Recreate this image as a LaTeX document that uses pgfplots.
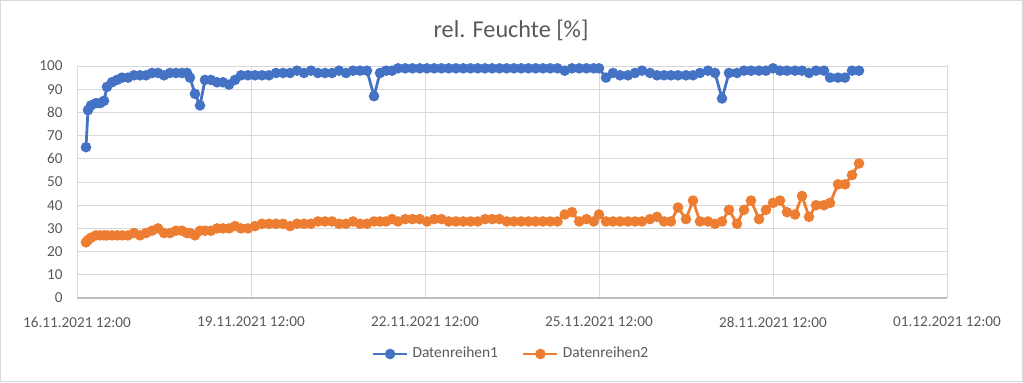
\documentclass[border=0pt]{standalone}
\usepackage{pgfplots}
\pgfplotsset{compat=1.18}
\usepackage{pgfplotstable}
\usepackage{fontspec}
\setmainfont{Carlito}
\definecolor{cblue}{HTML}{4472C4}
\definecolor{corange}{HTML}{ED7D31}
\definecolor{gridgray}{HTML}{D9D9D9}
\definecolor{axgray}{HTML}{BFBFBF}
\definecolor{txtgray}{HTML}{595959}

\pgfplotstableread{
day blue orange
0.155 65 24
0.190 81 25
0.241 83 26
0.328 84 27
0.397 84 27
0.466 85 27
0.517 91 27
0.603 93 27
0.690 94 27
0.776 95 27
0.879 95 27
0.983 96 28
1.086 96 27
1.190 96 28
1.293 97 29
1.397 97 30
1.500 96 28
1.603 97 28
1.707 97 29
1.810 97 29
1.897 97 28
1.948 95 28
2.034 88 27
2.121 83 29
2.207 94 29
2.310 94 29
2.414 93 30
2.517 93 30
2.621 92 30
2.724 94 31
2.828 96 30
2.948 96 30
3.069 96 31
3.190 96 32
3.310 96 32
3.431 97 32
3.552 97 32
3.672 97 31
3.793 98 32
3.914 97 32
4.034 98 32
4.155 97 33
4.276 97 33
4.397 97 33
4.517 98 32
4.638 97 32
4.759 98 33
4.879 98 32
5.000 98 32
5.121 87 33
5.224 97 33
5.328 98 33
5.431 98 34
5.534 99 33
5.659 99 34
5.784 99 34
5.909 99 34
6.034 99 33
6.159 99 34
6.284 99 34
6.409 99 33
6.534 99 33
6.659 99 33
6.784 99 33
6.909 99 33
7.034 99 34
7.159 99 34
7.284 99 34
7.409 99 33
7.534 99 33
7.659 99 33
7.784 99 33
7.909 99 33
8.034 99 33
8.159 99 33
8.284 99 33
8.409 98 36
8.534 99 37
8.659 99 33
8.784 99 34
8.909 99 33
9.000 99 36
9.121 95 33
9.241 97 33
9.362 96 33
9.500 96 33
9.621 97 33
9.741 98 33
9.879 97 34
10.000 96 35
10.121 96 33
10.241 96 33
10.362 96 39
10.500 96 34
10.621 96 42
10.741 97 33
10.879 98 33
11.000 97 32
11.121 86 33
11.241 97 38
11.379 97 32
11.500 98 38
11.621 98 42
11.759 98 34
11.879 98 38
12.000 99 41
12.121 98 42
12.241 98 37
12.379 98 36
12.500 98 44
12.621 97 35
12.741 98 40
12.879 98 40
12.983 95 41
13.121 95 49
13.241 95 49
13.362 98 53
13.483 98 58
}\data

\begin{document}
\begin{tikzpicture}
\draw[gridgray, line width=0.6pt] (0.3pt,-0.3pt) rectangle (511.2pt,-190.7pt);
\node[text=txtgray, font=\fontsize{12.1}{14}\selectfont] at (255.5pt,-15pt) {rel. Feuchte [\%]};
\begin{axis}[
  at={(38.5pt,-149pt)}, anchor=south west,
  scale only axis, width=435pt, height=116pt,
  xmin=0, xmax=15, ymin=0, ymax=100,
  xtick={0,3,6,9,12,15},
  xticklabels={16.11.2021 12:00,19.11.2021 12:00,22.11.2021 12:00,25.11.2021 12:00,28.11.2021 12:00,01.12.2021 12:00},
  ytick={0,10,...,100},
  grid=major,
  major grid style={gridgray, line width=0.5pt},
  axis x line=bottom, axis y line=left,
  x axis line style={-, axgray, line width=0.6pt},
  y axis line style={draw=none},
  major tick length=0pt,
  tick label style={font=\fontsize{7.6}{9}\selectfont, text=txtgray, inner sep=0pt},
  xticklabel style={anchor=center, yshift=-12pt},
  yticklabel style={anchor=east, xshift=-7pt},
  /pgf/number format/assume math mode=true,
  clip=false,
  legend style={at={(0.5,0)}, anchor=center, yshift=-28pt, draw=none, fill=none,
    font=\fontsize{7.7}{9}\selectfont, text=txtgray, legend columns=2,
    /tikz/every even column/.append style={column sep=10pt}},
  legend image code/.code={\draw[mark repeat=2, mark phase=2] plot coordinates {(0pt,0pt) (8.5pt,0pt) (17pt,0pt)};},
]
\addplot[cblue, line width=1.4pt, mark=*, mark size=1.9pt, mark options={solid, fill=cblue, draw=cblue}] table[x=day, y=blue] {\data};
\addlegendentry{Datenreihen1}
\addplot[corange, line width=1.4pt, mark=*, mark size=1.9pt, mark options={solid, fill=corange, draw=corange}] table[x=day, y=orange] {\data};
\addlegendentry{Datenreihen2}
\end{axis}
\end{tikzpicture}
\end{document}
